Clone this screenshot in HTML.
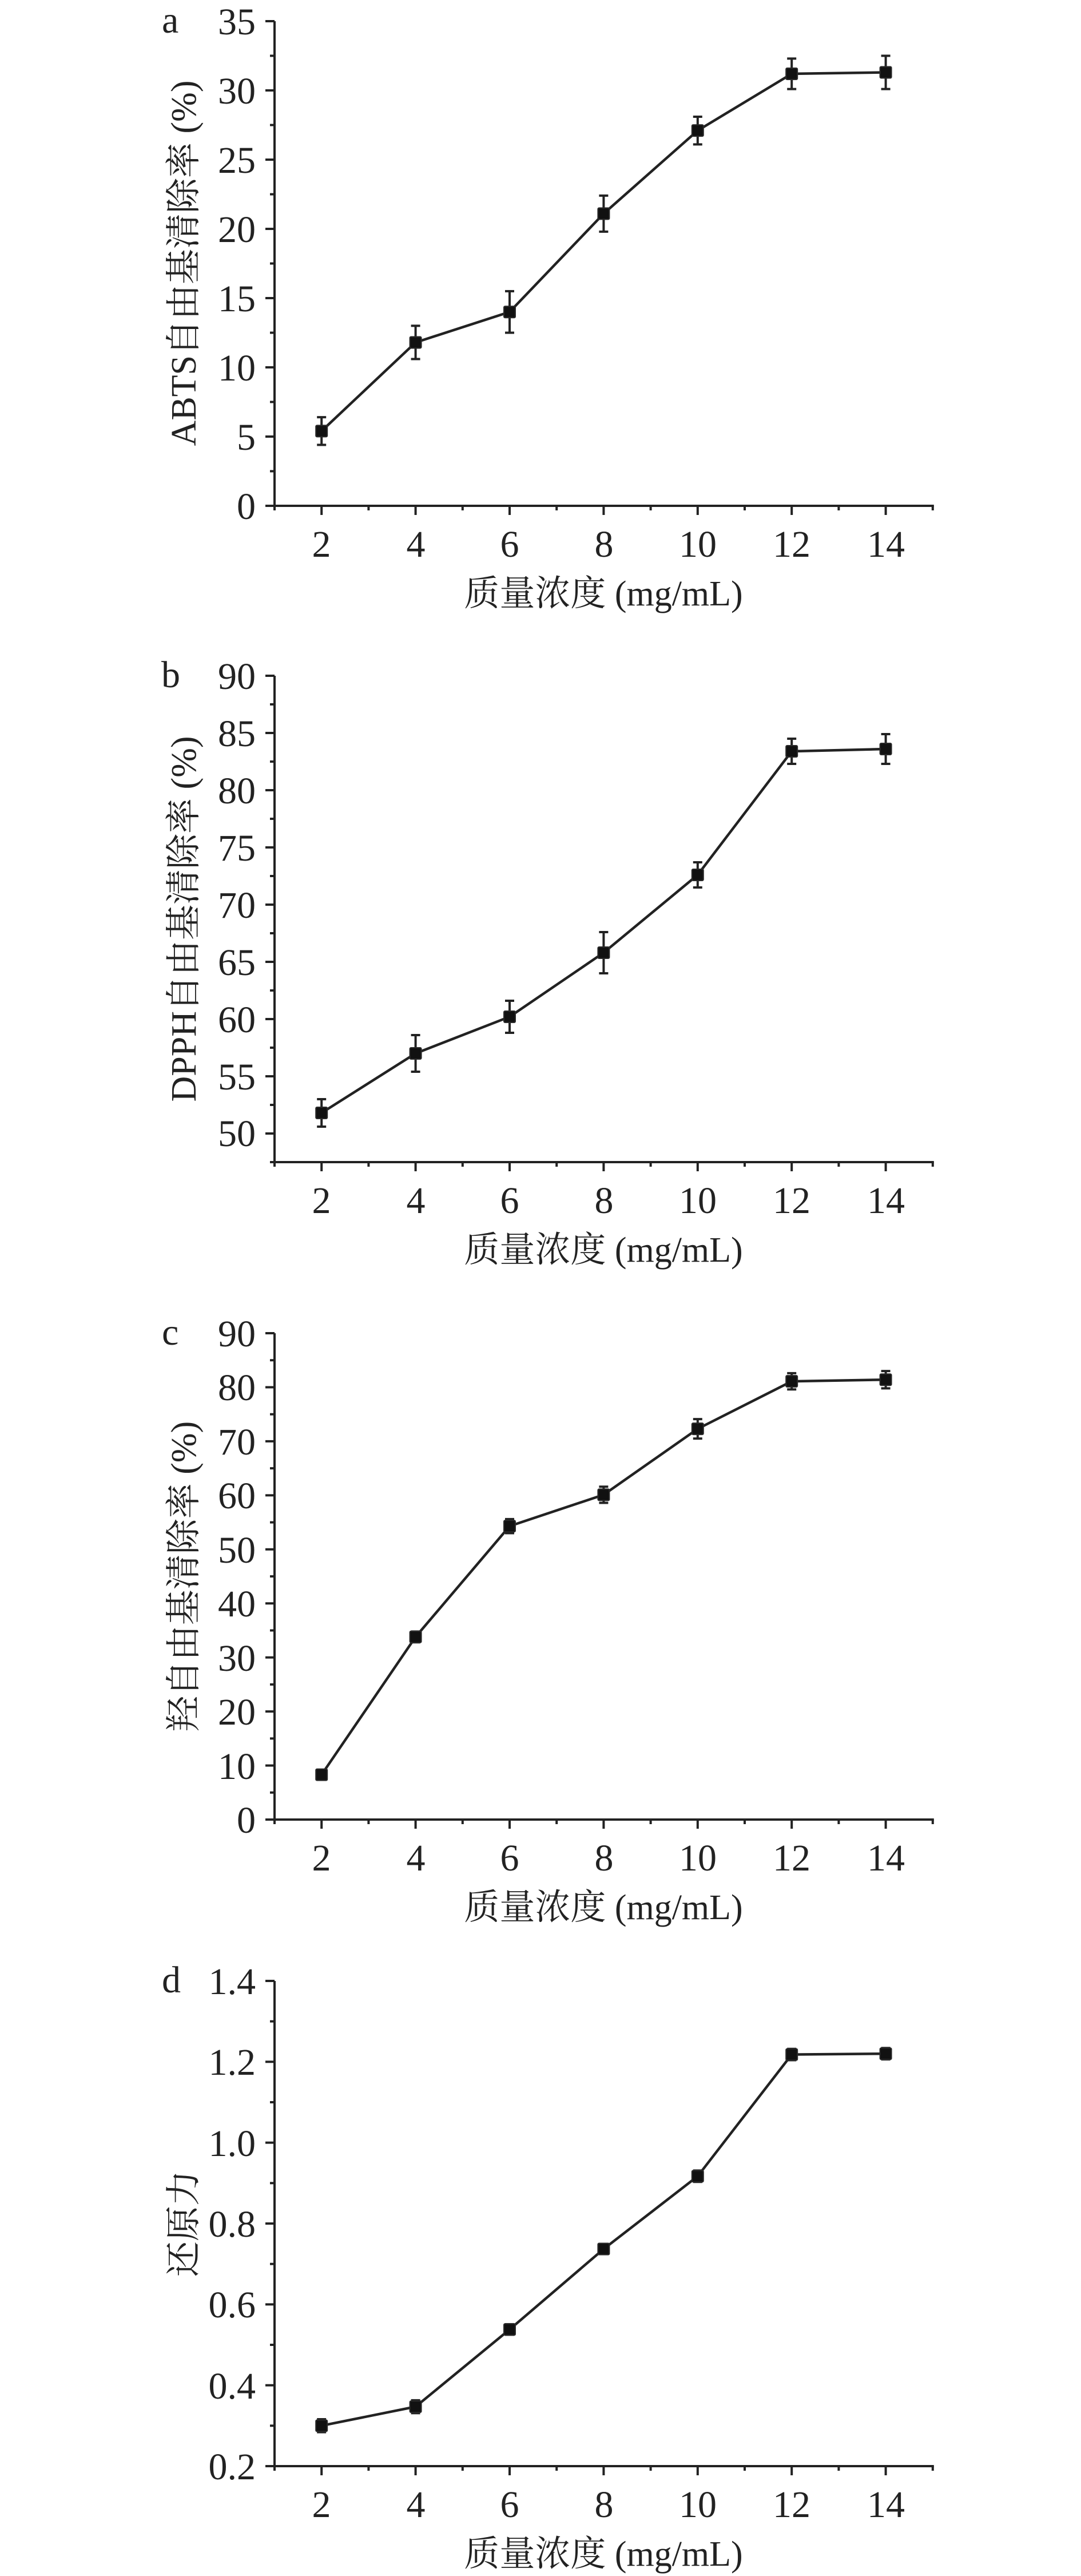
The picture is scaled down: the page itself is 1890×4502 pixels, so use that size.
<!DOCTYPE html>
<html><head><meta charset="utf-8"><style>
html,body{margin:0;padding:0;background:#fff}
svg{display:block}
text{fill:#222}
.t{font-family:"Liberation Serif","Noto Serif CJK SC",serif;font-size:66px}
.ti{font-family:"Liberation Serif","Noto Serif CJK SC",serif;font-size:62px}
</style></head><body>
<svg id="s" width="1890" height="4502" viewBox="0 0 1890 4502" xmlns="http://www.w3.org/2000/svg">
<g id="g"></g>
<!-- Panel a -->
<text class="t" x="283" y="57">a</text>
<g class="t" text-anchor="end">
<text x="447" y="60">35</text><text x="447" y="181">30</text><text x="447" y="302">25</text><text x="447" y="423">20</text><text x="447" y="544">15</text><text x="447" y="665">10</text><text x="447" y="786">5</text><text x="447" y="907">0</text>
</g>
<g class="t" text-anchor="middle">
<text x="562" y="973">2</text><text x="727" y="973">4</text><text x="891" y="973">6</text><text x="1056" y="973">8</text><text x="1220" y="973">10</text><text x="1384" y="973">12</text><text x="1549" y="973">14</text>
</g>
<text class="ti" x="1055" y="1058" text-anchor="middle">质量浓度 (mg/mL)</text>
<text class="ti" text-anchor="middle" transform="translate(342,460) rotate(-90)">ABTS自由基清除率 (%)</text>

<!-- Panel b -->
<text class="t" x="282" y="1201">b</text>
<g class="t" text-anchor="end">
<text x="447" y="1204">90</text><text x="447" y="1304">85</text><text x="447" y="1404">80</text><text x="447" y="1504">75</text><text x="447" y="1604">70</text><text x="447" y="1704">65</text><text x="447" y="1804">60</text><text x="447" y="1904">55</text><text x="447" y="2003">50</text>
</g>
<g class="t" text-anchor="middle">
<text x="562" y="2120">2</text><text x="727" y="2120">4</text><text x="891" y="2120">6</text><text x="1056" y="2120">8</text><text x="1220" y="2120">10</text><text x="1384" y="2120">12</text><text x="1549" y="2120">14</text>
</g>
<text class="ti" x="1055" y="2205" text-anchor="middle">质量浓度 (mg/mL)</text>
<text class="ti" text-anchor="middle" transform="translate(342,1606) rotate(-90)">DPPH自由基清除率 (%)</text>

<!-- Panel c -->
<text class="t" x="283" y="2350">c</text>
<g class="t" text-anchor="end">
<text x="447" y="2353">90</text><text x="447" y="2447">80</text><text x="447" y="2542">70</text><text x="447" y="2636">60</text><text x="447" y="2731">50</text><text x="447" y="2825">40</text><text x="447" y="2920">30</text><text x="447" y="3014">20</text><text x="447" y="3109">10</text><text x="447" y="3203">0</text>
</g>
<g class="t" text-anchor="middle">
<text x="562" y="3269">2</text><text x="727" y="3269">4</text><text x="891" y="3269">6</text><text x="1056" y="3269">8</text><text x="1220" y="3269">10</text><text x="1384" y="3269">12</text><text x="1549" y="3269">14</text>
</g>
<text class="ti" x="1055" y="3354" text-anchor="middle">质量浓度 (mg/mL)</text>
<text class="ti" text-anchor="middle" transform="translate(342,2755) rotate(-90)">羟自由基清除率 (%)</text>

<!-- Panel d -->
<text class="t" x="283" y="3482">d</text>
<g class="t" text-anchor="end">
<text x="447" y="3485">1.4</text><text x="447" y="3626">1.2</text><text x="447" y="3768">1.0</text><text x="447" y="3909">0.8</text><text x="447" y="4050">0.6</text><text x="447" y="4192">0.4</text><text x="447" y="4333">0.2</text>
</g>
<g class="t" text-anchor="middle">
<text x="562" y="4399">2</text><text x="727" y="4399">4</text><text x="891" y="4399">6</text><text x="1056" y="4399">8</text><text x="1220" y="4399">10</text><text x="1384" y="4399">12</text><text x="1549" y="4399">14</text>
</g>
<text class="ti" x="1055" y="4484" text-anchor="middle">质量浓度 (mg/mL)</text>
<text class="ti" text-anchor="middle" transform="translate(342,3886) rotate(-90)">还原力</text>
</svg>
<script>
(function(){
var NS="http://www.w3.org/2000/svg",g=document.getElementById("g");
function el(n,a){var e=document.createElementNS(NS,n);for(var k in a)e.setAttribute(k,a[k]);g.appendChild(e);return e;}
function ln(x1,y1,x2,y2,w){el("line",{x1:x1,y1:y1,x2:x2,y2:y2,stroke:"#222","stroke-width":w||4});}
var X0=480,XU=82.2;
function px(v){return X0+(v-1)*XU;}
var panels=[
 {top:37,bot:884,ymin:0,ymax:35,minor:2.5,
  d:[[5.4,1],[11.8,1.2],[14.0,1.5],[21.1,1.3],[27.1,1],[31.2,1.1],[31.3,1.2]]},
 {top:1181,bot:2031,ymin:47.5,ymax:90,minor:2.5,
  d:[[51.8,1.2],[57.0,1.6],[60.2,1.4],[65.8,1.8],[72.6,1.1],[83.4,1.1],[83.6,1.3]]},
 {top:2330,bot:3180,ymin:0,ymax:90,minor:5,
  d:[[8.3,0.8],[33.8,1.0],[54.3,1.3],[60.1,1.5],[72.3,1.8],[81.1,1.5],[81.4,1.6]]},
 {top:3462,bot:4310,ymin:0.2,ymax:1.4,minor:0.1,
  d:[[0.300,0.016],[0.347,0.016],[0.538,0.013],[0.737,0.009],[0.917,0.014],[1.218,0.014],[1.220,0.014]]}
];
panels.forEach(function(p){
  function py(v){return p.bot-(v-p.ymin)/(p.ymax-p.ymin)*(p.bot-p.top);}
  ln(X0,p.top,X0,p.bot+2);
  ln(X0-2,p.bot,px(15)+2,p.bot);
  var n=Math.round((p.ymax-p.ymin)/p.minor);
  for(var i=0;i<=n;i++){var v=p.ymin+i*p.minor,y=py(v);
    var major=Math.abs(v/(p.minor*2)-Math.round(v/(p.minor*2)))<1e-6;
    ln(X0-(major?16:8),y,X0,y);}
  for(var xv=1;xv<=15;xv++){var x=px(xv);ln(x,p.bot,x,p.bot+(xv%2==0?16:8));}
  var pts=p.d.map(function(d,i){return [px(2+2*i),py(d[0]),py(d[0]+d[1]),py(d[0]-d[1])];});
  el("polyline",{points:pts.map(function(q){return q[0]+","+q[1];}).join(" "),fill:"none",stroke:"#222","stroke-width":4.5});
  pts.forEach(function(q){
    ln(q[0],q[2],q[0],q[3],4);
    ln(q[0]-8,q[2],q[0]+8,q[2],4);
    ln(q[0]-8,q[3],q[0]+8,q[3],4);
    el("rect",{x:q[0]-10,y:q[1]-10,width:20,height:20,fill:"#111",stroke:"#2a2a2a","stroke-width":2,rx:2});
  });
});
})();
</script>
</body></html>
